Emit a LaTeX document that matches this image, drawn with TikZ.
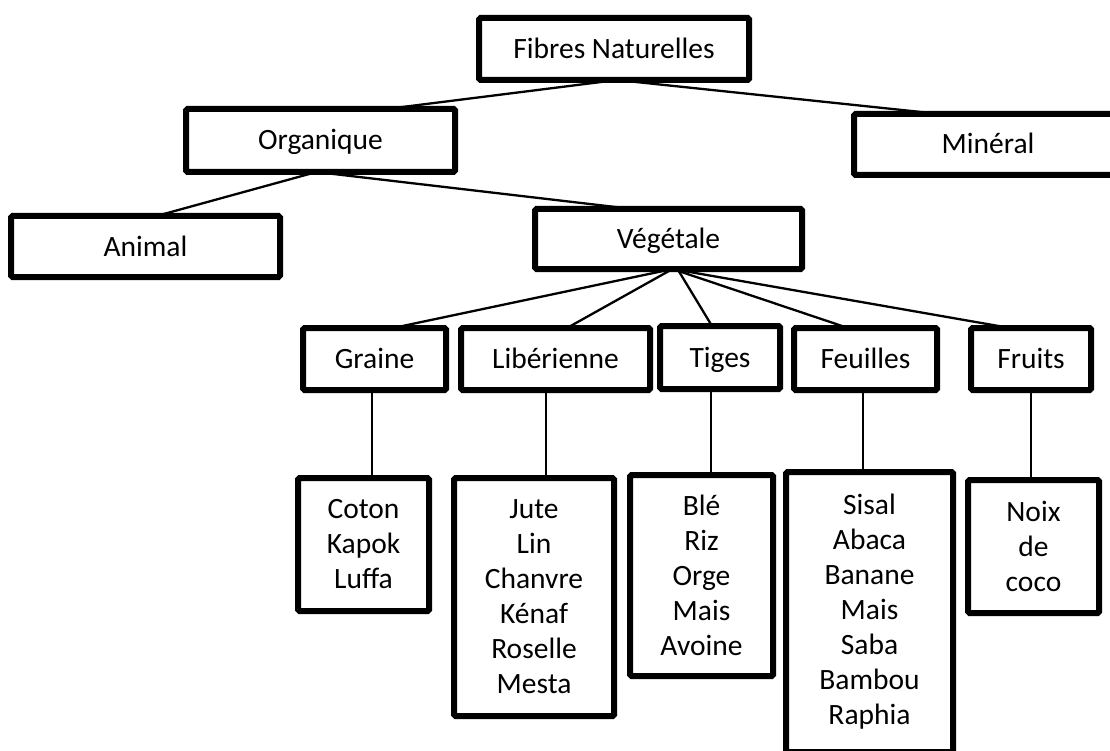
\documentclass[tikz,border=0pt]{standalone}
\usepackage{fontspec}
\setmainfont{Carlito}
\begin{document}
\begin{tikzpicture}[x=1pt,y=-1pt,
  box/.style={draw=black, line width=6pt, rounded corners=1.5pt, fill=white,
    inner sep=0pt, outer sep=0pt, align=center,
    font=\fontsize{29.5}{35}\selectfont},
  one/.style={text height=19pt, text depth=0pt},
  conn/.style={draw=black, line width=2.3pt},
  vconn/.style={draw=black, line width=2pt}]
\useasboundingbox (0,0) rectangle (1110,751);
\fill[white] (0,0) rectangle (1110,751);
\clip (0,0) rectangle (1110,751);
% level 0-1
\node[box, one, minimum width=270pt, minimum height=62pt] (fibres) at (614,49) {Fibres Naturelles};
\node[box, one, minimum width=269pt, minimum height=63pt] (organique) at (320.5,140.5) {Organique};
\node[box, one, minimum width=268pt, minimum height=61pt] (mineral) at (988,144.5) {Minéral};
% level 2
\node[box, one, minimum width=269pt, minimum height=61pt] (animal) at (145.5,246.5) {Animal};
\node[box, one, minimum width=267pt, minimum height=60pt] (vegetale) at (668.5,239) {Végétale};
% level 3
\node[box, one, minimum width=143pt, minimum height=62pt] (graine) at (374.5,359) {Graine};
\node[box, one, minimum width=189pt, minimum height=62pt] (liberienne) at (555.5,359) {Libérienne};
\node[box, one, minimum width=120pt, minimum height=63pt] (tiges) at (720,357.5) {Tiges};
\node[box, one, minimum width=143pt, minimum height=62pt] (feuilles) at (865.5,359) {Feuilles};
\node[box, one, minimum width=120pt, minimum height=62pt] (fruits) at (1031,359) {Fruits};
% level 4
\node[box, minimum width=131pt, minimum height=133pt] (coton) at (363.5,544.5) {Coton\\Kapok\\Luffa};
\node[box, minimum width=160pt, minimum height=238pt] (jute) at (534,597) {Jute\\Lin\\Chanvre\\Kénaf\\Roselle\\Mesta};
\node[box, minimum width=143pt, minimum height=201pt] (ble) at (701.5,575.5) {Blé\\Riz\\Orge\\Mais\\Avoine};
\node[box, minimum width=167pt, minimum height=280pt] (sisal) at (869.5,612) {Sisal\\Abaca\\Banane\\Mais\\Saba\\Bambou\\Raphia};
\node[box, minimum width=131pt, minimum height=133pt] (noix) at (1033.5,546.5) {Noix\\de\\coco};
% connectors
\draw[conn] ([xshift=3]fibres.south) -- ([xshift=66]organique.north);
\draw[conn] ([xshift=3]fibres.south) -- ([xshift=-48]mineral.north);
\draw[conn] ([xshift=-4]organique.south) -- ([xshift=11]animal.north);
\draw[conn] ([xshift=-4]organique.south) -- ([xshift=-36]vegetale.north);
\draw[conn] ([xshift=4]vegetale.south) -- ([xshift=18.5]graine.north);
\draw[conn] ([xshift=4]vegetale.south) -- ([xshift=11.5]liberienne.north);
\draw[conn] ([xshift=9]vegetale.south) -- ([xshift=-8]tiges.north);
\draw[conn] ([xshift=4]vegetale.south) -- ([xshift=-17.5]feuilles.north);
\draw[conn] ([xshift=4]vegetale.south) -- ([xshift=-21]fruits.north);
\draw[vconn] ([xshift=-2.5]graine.south) -- ([xshift=-2.5]graine.south |- coton.north);
\draw[vconn] ([xshift=-9.5]liberienne.south) -- ([xshift=-9.5]liberienne.south |- jute.north);
\draw[vconn] ([xshift=-9]tiges.south) -- ([xshift=-9]tiges.south |- ble.north);
\draw[vconn] ([xshift=-2.5]feuilles.south) -- ([xshift=-2.5]feuilles.south |- sisal.north);
\draw[vconn] (fruits.south) -- (fruits.south |- noix.north);
\end{tikzpicture}
\end{document}
